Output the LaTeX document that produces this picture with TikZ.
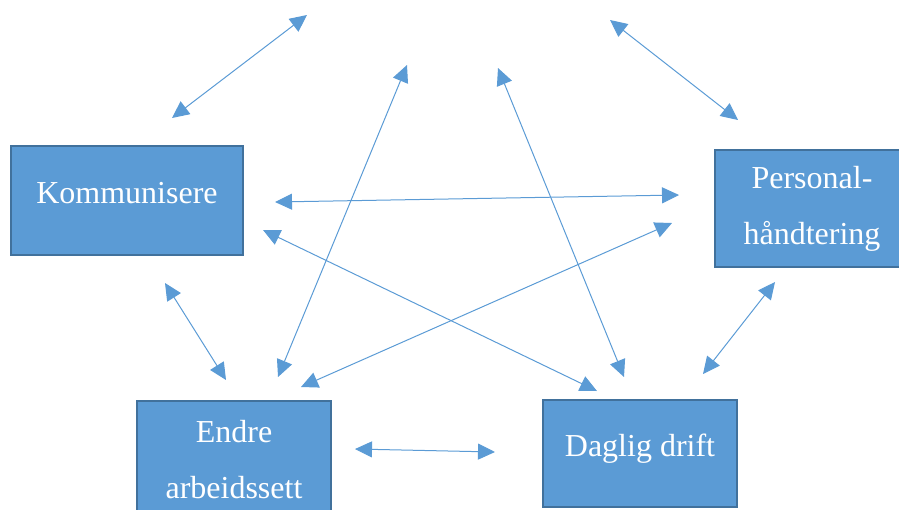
\documentclass[tikz,border=0pt]{standalone}
\usepackage{fontspec}
\setmainfont{Liberation Serif}
\usetikzlibrary{arrows.meta}
\definecolor{boxfill}{HTML}{5B9BD5}
\definecolor{boxline}{HTML}{41719C}

\begin{document}
\begin{tikzpicture}[x=1pt,y=-1pt]
\tikzstyle{box}=[rectangle, draw=boxline, line width=2pt, fill=boxfill, text=white, align=center, font=\fontsize{32}{56}\selectfont, minimum width=194pt]
\tikzstyle{connect}=[{Triangle[length=17pt,width=16pt]}-{Triangle[length=17pt,width=16pt]}, color=boxfill, line width=1pt]
\clip (0,0) rectangle (899,509);
  \node[box, minimum width=232pt, minimum height=109pt] (komm) at (127,200.5) {\raisebox{7pt}[\height][\depth]{Kommunisere}};
  \node[box, minimum height=117pt] (pers) at (812,208.5) {Personal-\\håndtering};
  \node[box, minimum height=117pt] (endre) at (234,459.5) {Endre\\arbeidssett};
  \node[box, minimum height=107pt] (daglig) at (640,453.5) {\raisebox{5pt}[\height][\depth]{Daglig drift}};
  % free ends towards the top
  \coordinate (t1) at (307,15);
  \coordinate (t2) at (407,65);
  \coordinate (t3) at (498,68);
  \coordinate (t4) at (610,20);
  % ends next to the boxes
  \coordinate (komm top) at (172,118);
  \coordinate (komm r1) at (275,202);
  \coordinate (komm r2) at (263,230);
  \coordinate (komm bot) at (165,283);
  \coordinate (pers top) at (738,120);
  \coordinate (pers l1) at (679,195);
  \coordinate (pers l2) at (672,223);
  \coordinate (pers bot) at (775,282);
  \coordinate (endre t1) at (278,377);
  \coordinate (endre t2) at (301,387);
  \coordinate (endre t3) at (226,380);
  \coordinate (endre r) at (355,449);
  \coordinate (daglig t1) at (624,377);
  \coordinate (daglig t2) at (597,391);
  \coordinate (daglig t3) at (703,374);
  \coordinate (daglig l) at (495,452);
  \draw[connect] (komm top) -- (t1);
  \draw[connect] (t4) -- (pers top);
  \draw[connect] (t2) -- (endre t1);
  \draw[connect] (t3) -- (daglig t1);
  \draw[connect] (komm r1) -- (pers l1);
  \draw[connect] (komm r2) -- (daglig t2);
  \draw[connect] (endre t2) -- (pers l2);
  \draw[connect] (komm bot) -- (endre t3);
  \draw[connect] (pers bot) -- (daglig t3);
  \draw[connect] (endre r) -- (daglig l);
\end{tikzpicture}
\end{document}
